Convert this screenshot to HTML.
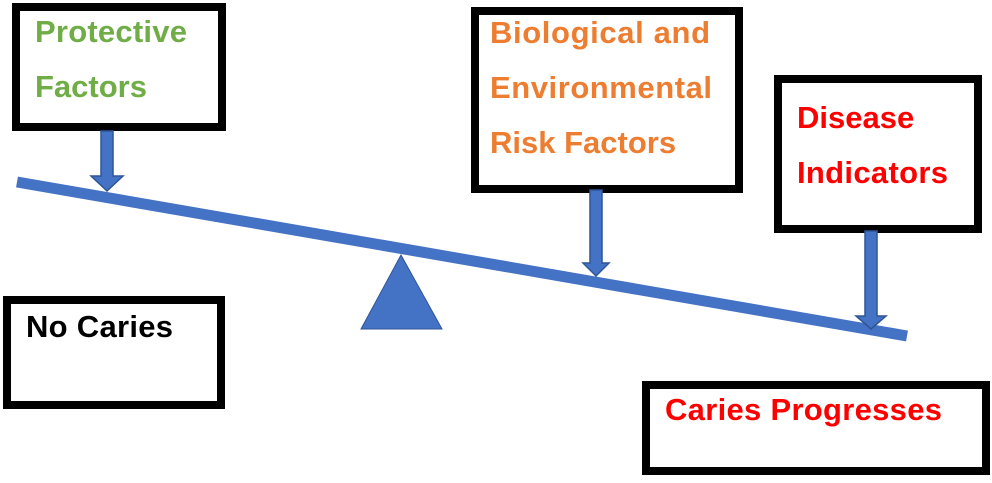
<!DOCTYPE html>
<html><head><style>
html,body{margin:0;padding:0;background:#fff;}
body{width:992px;height:478px;overflow:hidden;}
text{font-family:"Liberation Sans",Arial,sans-serif;font-weight:bold;font-size:31px;}
</style></head><body>
<svg width="992" height="478" viewBox="0 0 992 478" xmlns="http://www.w3.org/2000/svg">
<g fill="#fff" stroke="#000" stroke-width="8">
<rect x="16" y="7" width="206" height="120"/>
<rect x="475" y="11" width="264" height="178"/>
<rect x="778" y="79" width="200" height="150"/>
<rect x="7" y="300" width="214" height="105"/>
<rect x="646" y="385" width="340" height="86"/>
</g>
<line x1="17" y1="182" x2="907" y2="336" stroke="#4472c4" stroke-width="11"/>
<polygon points="401,255 361,329 442,329" fill="#4472c4" stroke="#2f5597" stroke-width="1"/>
<g fill="#4472c4" stroke="#2f5597" stroke-width="1.5">
<polygon points="101,131 113,131 113,176 123,176 107,191 91,176 101,176"/>
<polygon points="590,190 602,190 602,263 609,263 596,276 583,263 590,263"/>
<polygon points="865,231 877,231 877,316 886,316 871,329 856,316 865,316"/>
</g>
<g fill="#70ad47">
<text x="35" y="42" textLength="152">Protective</text>
<text x="35" y="97">Factors</text>
</g>
<g fill="#ed7d31">
<text x="490" y="43" textLength="220">Biological and</text>
<text x="490" y="98" textLength="222">Environmental</text>
<text x="490" y="153">Risk Factors</text>
</g>
<g fill="#f00">
<text x="797" y="128">Disease</text>
<text x="797" y="183" textLength="151">Indicators</text>
<text x="665" y="420" textLength="277">Caries Progresses</text>
</g>
<text x="26" y="337" fill="#000" textLength="147">No Caries</text>
</svg>
</body></html>
